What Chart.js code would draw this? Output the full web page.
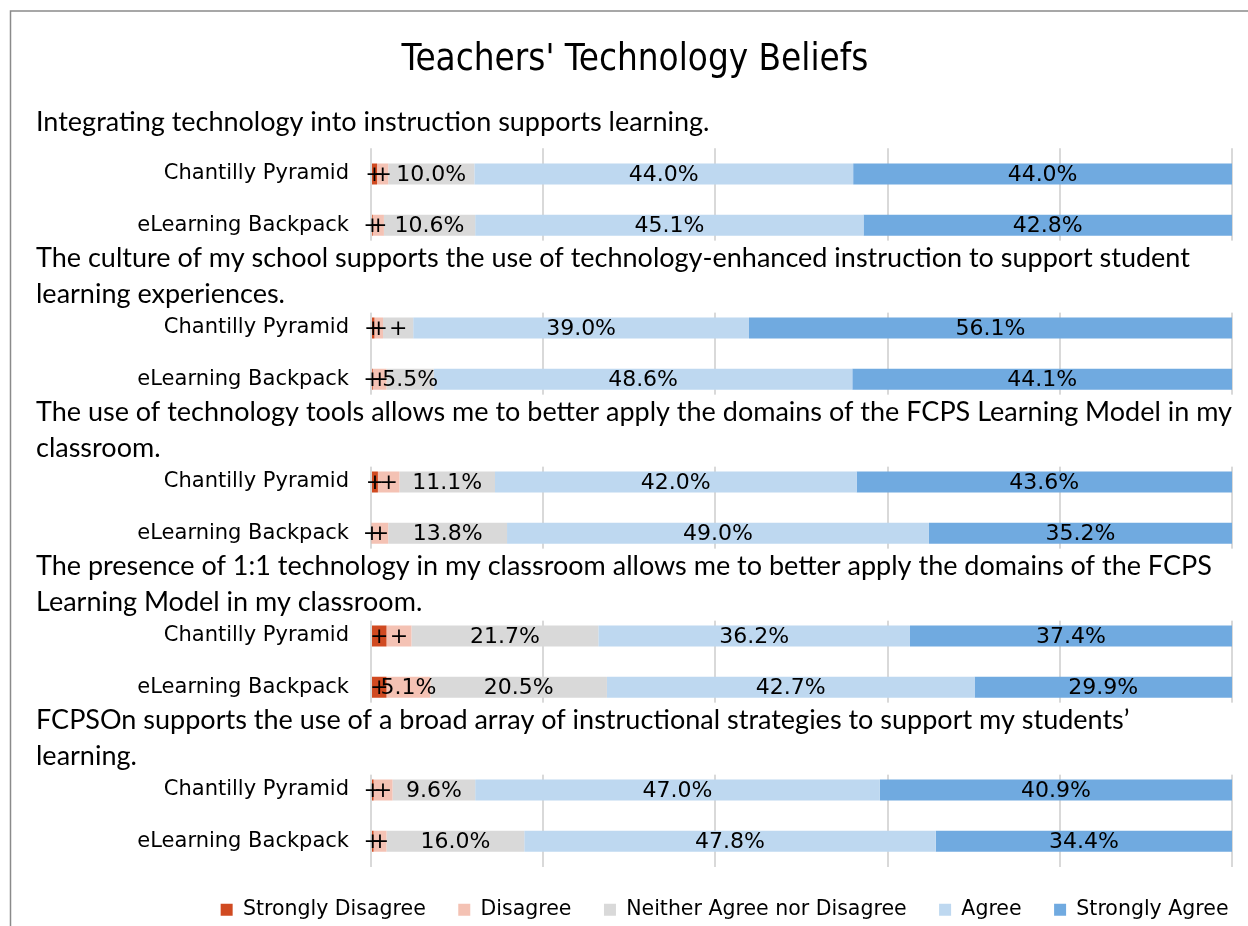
<!DOCTYPE html>
<html>
<head>
<meta charset="utf-8">
<title>Teachers' Technology Beliefs</title>
<script src="https://cdn.jsdelivr.net/npm/chart.js@4.4.1/dist/chart.umd.min.js"></script>
<style>
  html, body { margin: 0; padding: 0; background: #fff; overflow: hidden; }
  #wrap { position: relative; width: 1248px; height: 930px; }
</style>
</head>
<body>
<div id="wrap"><canvas id="graph"></canvas></div>
<script>
// survey questions, each one is drawn above its pair of bars
const questions = [
    ['Integrating technology into instruction supports learning.'],
    ['The culture of my school supports the use of technology-enhanced instruction to support student',
     'learning experiences.'],
    ['The use of technology tools allows me to better apply the domains of the FCPS Learning Model in my',
     'classroom.'],
    ['The presence of 1:1 technology in my classroom allows me to better apply the domains of the FCPS',
     'Learning Model in my classroom.'],
    ['FCPSOn supports the use of a broad array of instructional strategies to support my students\u2019',
     'learning.']
];
const groups = ['Chantilly Pyramid', 'eLearning Backpack'];

// percent, two values per question (Chantilly, eLearning)
const stronglyDisagree = [0.7, 0.2, 0.4, 0.2, 0.8, 0.1, 1.8, 1.8, 0.3, 0.3];
const disagree         = [1.3, 1.3, 1.0, 1.6, 2.5, 1.9, 2.9, 5.1, 2.2, 1.5];
const neither          = [10.0, 10.6, 3.5, 5.5, 11.1, 13.8, 21.7, 20.5, 9.6, 16.0];
const agree            = [44.0, 45.1, 39.0, 48.6, 42.0, 49.0, 36.2, 42.7, 47.0, 47.8];
const stronglyAgree    = [44.0, 42.8, 56.1, 44.1, 43.6, 35.2, 37.4, 29.9, 40.9, 34.4];

const seriesNames = ['Strongly Disagree', 'Disagree', 'Neither Agree nor Disagree', 'Agree', 'Strongly Agree'];
const seriesColors = ['#d04a21', '#f4c2b4', '#d9d9d9', '#bed8f0', '#70aae0'];

// build the rows: a blank row for the question text between each pair
let labels = [];
let rowOf = [];      // row index of each value
let questionRow = []; // row where each question text goes
questions.forEach((q, i) => {
    if (i > 0) {
        questionRow.push(labels.length);
        labels.push('');
    } else {
        questionRow.push(-1);
    }
    groups.forEach((g) => {
        rowOf.push(labels.length);
        labels.push(g);
    });
});

function toRows(values) {
    let out = labels.map(() => null);
    values.forEach((v, i) => { out[rowOf[i]] = v; });
    return out;
}

const allSeries = [stronglyDisagree, disagree, neither, agree, stronglyAgree];
const datasets = allSeries.map((vals, i) => ({
    label: seriesNames[i],
    data: toRows(vals),
    backgroundColor: seriesColors[i],
    borderWidth: 0,
    barPercentage: 0.41,
    categoryPercentage: 1
}));

const labelFont = 'DejaVu Sans';

// frame around the chart, like the exported picture
const framePlugin = {
    id: 'frame',
    beforeDraw(chart) {
        const ctx = chart.ctx;
        ctx.save();
        ctx.strokeStyle = '#8a8a8a';
        ctx.lineWidth = 1.5;
        ctx.beginPath();
        ctx.moveTo(10.5, chart.height);
        ctx.lineTo(10.5, 11);
        ctx.lineTo(chart.width, 11);
        ctx.stroke();
        ctx.restore();
    }
};

// legend sits a bit further right than chart.js puts it
const legendShift = {
    id: 'legendShift',
    afterLayout(chart) {
        chart.legend.left += 29;
        chart.legend.right += 29;
    }
};

// percent labels in the middle of each piece, "+" where it is too small
const valueLabels = {
    id: 'valueLabels',
    afterDatasetsDraw(chart) {
        const ctx = chart.ctx;
        ctx.save();
        ctx.font = '22px ' + labelFont;
        ctx.fillStyle = '#000';
        ctx.textAlign = 'center';
        ctx.textBaseline = 'middle';
        chart.data.datasets.forEach((ds, d) => {
            const meta = chart.getDatasetMeta(d);
            meta.data.forEach((bar, i) => {
                const v = ds.data[i];
                if (v === null) return;
                const cx = (bar.x + bar.base) / 2;
                const txt = v < 5 ? '+' : v.toFixed(1) + '%';
                ctx.fillText(txt, cx, bar.y + 1);
            });
        });
        ctx.restore();
    }
};

// question text over the blank rows
const questionText = {
    id: 'questionText',
    afterDraw(chart) {
        const ctx = chart.ctx;
        const y = chart.scales.y;
        const lineH = 36;
        ctx.save();
        ctx.font = '27px Lato';
        ctx.textAlign = 'left';
        ctx.textBaseline = 'middle';
        questions.forEach((q, i) => {
            const cy = y.getPixelForValue(questionRow[i]);
            const top = cy - (q.length * lineH) / 2;
            ctx.fillStyle = '#fff';
            ctx.fillRect(30, top, chart.width - 30, q.length * lineH);
            ctx.fillStyle = '#000';
            q.forEach((line, k) => {
                ctx.fillText(line, 36, top + lineH * k + lineH / 2);
            });
        });
        ctx.restore();
    }
};

const graph = document.querySelector('#graph');

const config = {
    type: 'bar',
    data: { labels: labels, datasets: datasets },
    options: {
        indexAxis: 'y',
        responsive: true,
        maintainAspectRatio: false,
        animation: false,
        layout: { padding: { left: 38, right: 16, top: 0, bottom: 0 } },
        scales: {
            x: {
                stacked: true,
                min: 0,
                max: 100,
                ticks: { display: false, stepSize: 20 },
                grid: { color: '#d9d9d9', lineWidth: 2, drawTicks: false },
                border: { display: false }
            },
            y: {
                stacked: true,
                grid: { display: false, drawTicks: false },
                border: { display: false },
                ticks: {
                    color: '#000',
                    font: { family: labelFont, size: 21 },
                    padding: 22
                },
                afterFit(scale) { scale.width = 333; }
            }
        },
        plugins: {
            title: {
                display: true,
                text: "Teachers' Technology Beliefs",
                color: '#000',
                font: { family: 'DejaVu Sans Condensed', size: 36.5, weight: 'normal' },
                padding: { top: 39, bottom: 65.5 }
            },
            legend: {
                position: 'bottom',
                align: 'end',
                labels: {
                    color: '#000',
                    font: { family: labelFont, size: 20.5 },
                    boxWidth: 12,
                    boxHeight: 12,
                    padding: 32.5
                }
            },
            tooltip: { enabled: false }
        }
    },
    plugins: [framePlugin, legendShift, valueLabels, questionText]
};

new Chart(graph, config);
</script>
</body>
</html>
